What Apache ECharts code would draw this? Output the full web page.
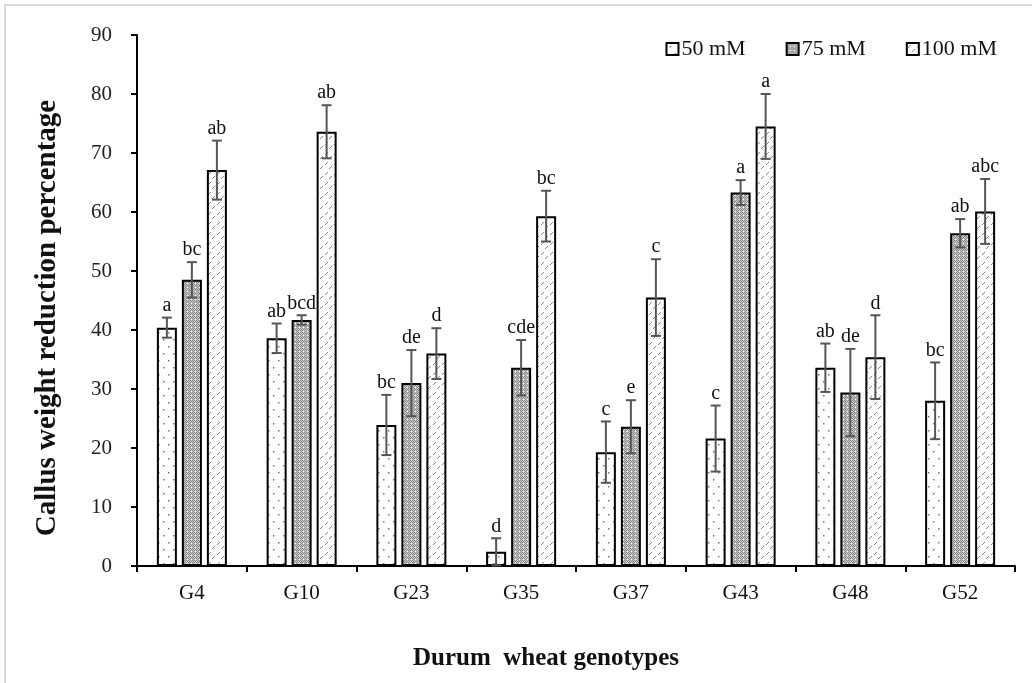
<!DOCTYPE html>
<html>
<head>
<meta charset="utf-8">
<script src="https://cdn.jsdelivr.net/npm/echarts@6/dist/echarts.min.js"></script>
<style>
html,body{margin:0;padding:0;background:#fff;}
#frame{position:absolute;left:4px;top:4px;width:1040px;height:700px;border-left:2px solid #d9d9d9;border-top:2px solid #d9d9d9;}
#chart{position:absolute;left:0;top:0;width:1032px;height:683px;}
</style>
</head>
<body>
<div id="frame"></div>
<div id="chart"></div>
<script>
const categories = ['G4','G10','G23','G35','G37','G43','G48','G52'];
const seriesNames = ['50 mM','75 mM','100 mM'];
const mean50  = [40.4, 38.6, 23.9, 2.4, 19.3, 21.6, 33.6, 28.0];
const mean75  = [48.5, 41.7, 31.0, 33.6, 23.6, 63.3, 29.4, 56.4];
const mean100 = [67.1, 73.6, 36.0, 59.3, 45.5, 74.5, 35.4, 60.1];
const err50  = [1.7, 2.5, 5.1, 2.3, 5.2, 5.6, 4.1, 6.5];
const err75  = [3.0, 0.8, 5.6, 4.7, 4.5, 2.1, 7.4, 2.4];
const err100 = [5.0, 4.5, 4.3, 4.3, 6.5, 5.5, 7.1, 5.5];
const letters50  = ['a','ab','bc','d','c','c','ab','bc'];
const letters75  = ['bc','bcd','de','cde','e','a','de','ab'];
const letters100 = ['ab','ab','d','bc','c','a','d','abc'];
const yTicks = [0,10,20,30,40,50,60,70,80,90];

function makePattern(kind){
  const c = document.createElement('canvas');
  const ctx = c.getContext('2d');
  if(kind===0){
    c.width=10;c.height=14;
    ctx.fillStyle='#fff';ctx.fillRect(0,0,10,14);
    ctx.fillStyle='#777';
    ctx.fillRect(3,3,1.5,1.5);ctx.fillRect(8,10,1.5,1.5);
  } else if(kind===1){
    c.width=4;c.height=4;
    ctx.fillStyle='#c8c8c8';ctx.fillRect(0,0,4,4);
    ctx.fillStyle='#8a8a8a';
    ctx.fillRect(0,0,1,1);ctx.fillRect(2,0,1,1);ctx.fillRect(1,1,1,1);ctx.fillRect(3,1,1,1);
    ctx.fillRect(0,2,1,1);ctx.fillRect(2,2,1,1);ctx.fillRect(1,3,1,1);
    ctx.fillStyle='#fff';ctx.fillRect(3,3,1,1);
  } else {
    c.width=9;c.height=10;
    ctx.fillStyle='#fff';ctx.fillRect(0,0,9,10);
    ctx.strokeStyle='#888';ctx.lineWidth=1;
    ctx.beginPath();ctx.moveTo(1,5);ctx.lineTo(4,2);ctx.stroke();
    ctx.beginPath();ctx.moveTo(5,9);ctx.lineTo(8,6);ctx.stroke();
  }
  return {image:c, repeat:'repeat'};
}

const means = [mean50, mean75, mean100];
const errs = [err50, err75, err100];
const letters = [letters50, letters75, letters100];
const offsets = [-25, 0, 25];

const chart = echarts.init(document.getElementById('chart'));
const font = '"Liberation Serif","Times New Roman",serif';

const series = [];
for(let s=0;s<3;s++){
  series.push({
    name: seriesNames[s], type:'bar', data: means[s], barWidth:20, barGap:'25%',
    itemStyle:{color: makePattern(s), borderColor:'#000', borderWidth:2},
    z:2
  });
}
for(let s=0;s<3;s++){
  const data = categories.map((c,i)=>[i, means[s][i], errs[s][i], letters[s][i]]);
  series.push({
    type:'custom', name:'err'+s, data:data, z:5, silent:true,
    renderItem:function(params, api){
      const i = api.value(0), m = api.value(1), e = api.value(2);
      const lt = data[params.dataIndex][3];
      const top = api.coord([i, m+e]);
      const bot = api.coord([i, Math.max(0, m-e)]);
      const x = top[0] + offsets[s];
      const cap = 5;
      const st = {stroke:'#555', lineWidth:2};
      return {type:'group', children:[
        {type:'line', shape:{x1:x,y1:top[1],x2:x,y2:bot[1]}, style:st},
        {type:'line', shape:{x1:x-cap,y1:top[1],x2:x+cap,y2:top[1]}, style:st},
        {type:'line', shape:{x1:x-cap,y1:bot[1],x2:x+cap,y2:bot[1]}, style:st},
        {type:'text', style:{text:lt, x:x, y:top[1]-2, align:'center', verticalAlign:'bottom',
          font:'20px '+font, fill:'#111'}}
      ]};
    }
  });
}

chart.setOption({
  animation:false,
  backgroundColor:'transparent',
  grid:{left:137, right:17, top:35, bottom:117},
  legend:{
    data:seriesNames, right:30, top:33, icon:'rect', itemWidth:12, itemHeight:12, itemGap:40,
    textStyle:{fontFamily:font, fontSize:22, color:'#111', padding:[0,0,0,-2]},
    itemStyle:{borderColor:'#000', borderWidth:2}
  },
  xAxis:{
    type:'category', data:categories, boundaryGap:true,
    axisLine:{lineStyle:{color:'#000', width:2}},
    axisTick:{show:true, length:6, alignWithLabel:false, lineStyle:{color:'#000', width:2}},
    axisLabel:{fontFamily:font, fontSize:21, color:'#111', margin:17},
    splitLine:{show:false}
  },
  yAxis:{
    type:'value', min:0, max:90, interval:10,
    axisLine:{show:true, lineStyle:{color:'#000', width:2}},
    axisTick:{show:true, length:6, lineStyle:{color:'#000', width:2}},
    axisLabel:{fontFamily:font, fontSize:21, color:'#222', margin:25,
      formatter:function(v){return yTicks.indexOf(v)>=0 ? String(v) : '';}},
    splitLine:{show:false}
  },
  graphic:[
    {type:'text', x:48, y:318, rotation:Math.PI/2,
      style:{text:'Callus weight reduction percentage', font:'bold 29px '+font, fill:'#111',
        align:'center', verticalAlign:'middle'}},
    {type:'text', x:546, y:659,
      style:{text:'Durum  wheat genotypes', font:'bold 25px '+font, fill:'#111',
        align:'center', verticalAlign:'middle'}}
  ],
  series:series
});
</script>
</body>
</html>
